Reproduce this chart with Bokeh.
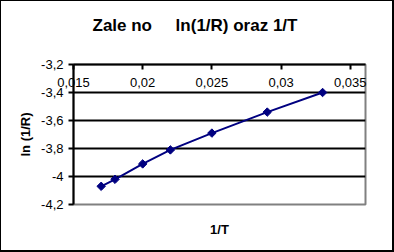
from bokeh.plotting import figure
from bokeh.models import FixedTicker, CustomJSTickFormatter, Title
from bokeh.embed import file_html
from bokeh.resources import INLINE

# data
inv_T = [0.017, 0.018, 0.020, 0.022, 0.025, 0.029, 0.033]
ln_inv_R = [-4.07, -4.02, -3.91, -3.81, -3.69, -3.54, -3.40]

x_ticks = [0.015, 0.02, 0.025, 0.03, 0.035]
x_tick_labels = ["0,015", "0,02", "0,025", "0,03", "0,035"]
y_ticks = [-4.2, -4.0, -3.8, -3.6, -3.4, -3.2]
y_tick_labels = ["-4,2", "-4", "-3,8", "-3,6", "-3,4", "-3,2"]
y_grid = [-4.0, -3.8, -3.6, -3.4]

title_text = "Zale\u00a0no\u00a0\u00a0\u00a0\u00a0\u00a0ln(1/R) oraz 1/T"
x_label = "1/T"
y_label = "ln (1/R)"

FONT = "Liberation Sans"

p = figure(width=394, height=252, output_backend="svg", toolbar_location=None,
           x_range=(0.015, 0.0361), y_range=(-4.2, -3.2),
           x_axis_location="above",
           min_border_left=72, min_border_right=30, min_border_top=63,
           min_border_bottom=49)
p.styles = {"border-left": "1px solid black", "border-top": "1px solid black",
            "border-right": "2px solid black", "border-bottom": "2px solid black"}
p.background_fill_color = "white"
p.border_fill_color = "white"
p.outline_line_color = "#808080"
p.outline_line_width = 2

def fmt(tv, tl):
    return CustomJSTickFormatter(args=dict(tv=tv, tl=tl), code="""
        for (let i = 0; i < tv.length; i++) {
            if (Math.abs(tv[i] - tick) < 1e-9) return tl[i];
        }
        return '';
    """)

# x axis at the top edge (crossing y=-3.2), labels drawn below the line
xa = p.xaxis[0]
xa.ticker = FixedTicker(ticks=x_ticks)
xa.formatter = fmt(x_ticks, x_tick_labels)
xa.axis_line_color = "black"
xa.axis_line_width = 2
xa.major_tick_line_color = "black"
xa.major_tick_line_width = 2
xa.major_tick_in = 5
xa.major_tick_out = 0
xa.minor_tick_line_color = None
xa.major_label_standoff = -22
xa.major_label_text_font = FONT
xa.major_label_text_font_size = "13px"
xa.major_label_text_color = "black"

# spacer + title stacked above the axis
p.add_layout(Title(text="\u00a0", text_font_size="1px", standoff=27), "above")
p.add_layout(Title(text=title_text, align="left", offset=19, text_font=FONT,
                   text_font_size="17px", text_font_style="bold",
                   text_color="black", standoff=0), "above")

p.add_layout(Title(text=x_label, align="center", text_font=FONT,
                   text_font_size="13px", text_font_style="bold",
                   text_color="black", standoff=31), "below")

ya = p.yaxis[0]
ya.ticker = FixedTicker(ticks=y_ticks)
ya.formatter = fmt(y_ticks, y_tick_labels)
ya.axis_line_color = "black"
ya.axis_line_width = 2
ya.major_tick_line_color = "black"
ya.major_tick_line_width = 2
ya.major_tick_in = 0
ya.major_tick_out = 5
ya.minor_tick_line_color = None
ya.major_label_standoff = 5
ya.major_label_text_font = FONT
ya.major_label_text_font_size = "13px"
ya.major_label_text_color = "black"
ya.axis_label = y_label
ya.axis_label_text_font = FONT
ya.axis_label_text_font_size = "13px"
ya.axis_label_text_font_style = "bold"
ya.axis_label_text_color = "black"
ya.axis_label_standoff = 5

p.xgrid.grid_line_color = None
p.ygrid.ticker = FixedTicker(ticks=y_grid)
p.ygrid.grid_line_color = "black"
p.ygrid.grid_line_width = 2
p.ygrid.grid_line_alpha = 1.0

p.line(inv_T, ln_inv_R, line_color="#000080", line_width=2)
p.scatter(inv_T, ln_inv_R, marker="square", angle=0.785398, size=6,
          fill_color="#000080", line_color="#000080")

open("out.html", "w").write(file_html(p, INLINE))
